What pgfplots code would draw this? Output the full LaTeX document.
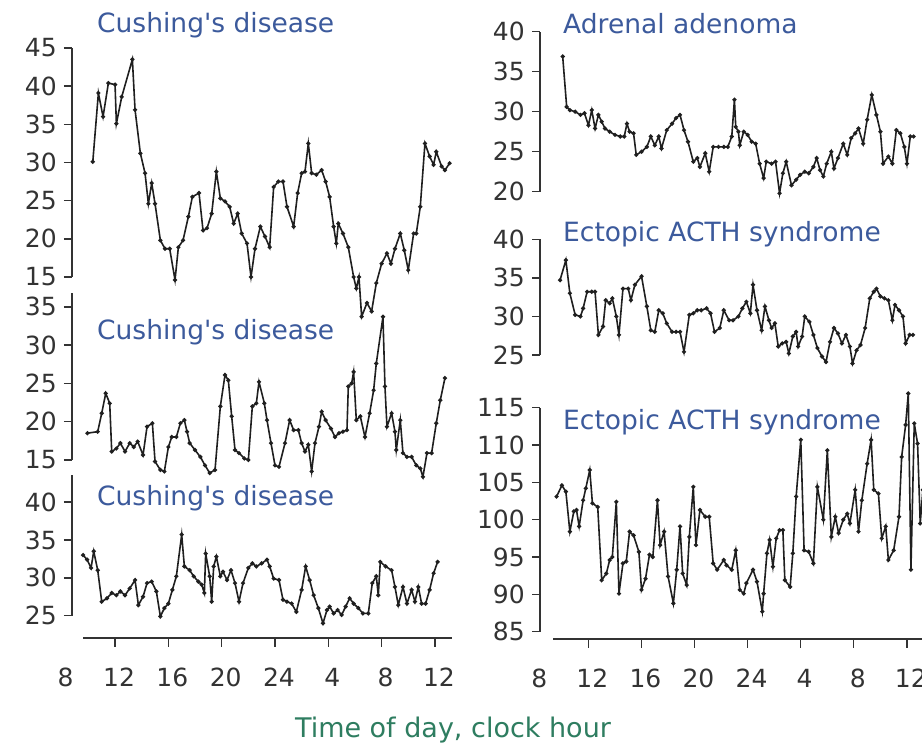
\documentclass[border=0pt]{standalone}
\usepackage{fontspec}
\setmainfont{DejaVu Sans}
\usepackage{pgfplots}
\pgfplotsset{compat=1.18}
\definecolor{titleblue}{HTML}{3C5A9C}
\definecolor{labgreen}{HTML}{2E7D60}
\definecolor{tickgray}{HTML}{333333}
\pgfplotsset{
 panel/.style={scale only axis, clip=false, anchor=south west,
   axis y line=left, axis x line=none,
   axis line style={-, line width=1.5pt, tickgray},
   tick align=outside, major tick length=8pt,
   tick style={line width=1.5pt, tickgray},
   ytick distance=5,
   /pgf/number format/assume math mode=true,
   yticklabel style={font=\fontsize{25}{30}\selectfont, text=tickgray, inner sep=1pt, xshift=-6pt}},
 xpanel/.style={scale only axis, clip=false, anchor=south west, height=10pt,
   ymin=0, ymax=1, axis y line=none, axis x line=bottom,
   axis line style={-, line width=1.5pt, tickgray},
   tick align=outside, major tick length=9pt,
   tick style={line width=1.5pt, tickgray},
   xtick={12,16,...,36}, xticklabels={12,16,20,24,4,8,12},
   extra x ticks={8}, extra x tick labels={8},
   extra x tick style={major tick style={draw=none}},
   xticklabel style={font=\fontsize{25}{30}\selectfont, text=tickgray, anchor=base, yshift=-40pt, xshift=4pt}},
 ser/.style={line width=1.6pt, black!88, mark=*, mark size=1.2pt},
}
\newcommand{\ttl}{\fontsize{26.5}{30}\selectfont}
\begin{document}
\begin{tikzpicture}
\useasboundingbox (0,0) rectangle (922pt,746pt);
\clip (0,0) rectangle (922pt,746pt);
\fill[white] (0,0) rectangle (922pt,746pt);

% ---------- left column ----------
\begin{axis}[panel, at={(72pt,469pt)}, width=389.6pt, height=229pt,
  xmin=8.77, xmax=38, ymin=15, ymax=45]
\addplot[ser] coordinates {
(10.33,30.1)(10.75,39.1)(11.1,36.0)(11.5,40.4)(12.0,40.2)(12.1,35.1)(12.5,38.6)
(13.3,43.5)(13.5,36.9)(13.9,31.2)(14.25,28.6)(14.5,24.6)(14.75,27.3)(15.0,24.6)
(15.4,19.8)(15.75,18.7)(16.1,18.7)(16.5,14.6)(16.75,18.9)(17.1,19.8)(17.5,22.9)
(17.8,25.5)(18.3,26.0)(18.6,21.1)(18.9,21.4)(19.25,23.3)(19.6,28.8)(19.9,25.3)
(20.25,24.9)(20.6,24.2)(20.9,22.0)(21.2,23.3)(21.5,20.7)(21.9,19.4)(22.2,15.0)
(22.5,18.7)(22.9,21.6)(23.25,20.3)(23.6,18.9)(23.9,26.8)(24.25,27.5)(24.6,27.5)
(24.9,24.2)(25.4,21.6)(25.7,26.0)(26.0,28.6)(26.25,28.8)(26.5,32.5)(26.75,28.6)
(27.1,28.4)(27.5,29.0)(27.8,27.5)(28.1,25.5)(28.4,21.6)(28.6,19.4)(28.75,22.0)
(29.1,20.7)(29.5,18.9)(29.9,15.0)(30.1,13.5)(30.3,15.0)(30.5,9.8)(30.9,11.6)
(31.25,10.5)(31.6,14.2)(32.0,16.75)(32.4,18.1)(32.7,16.75)(33.0,18.7)(33.4,20.7)
(33.7,18.5)(34.0,15.9)(34.4,20.7)(34.6,20.7)(34.9,24.2)(35.25,32.5)(35.6,30.8)
(35.9,29.7)(36.1,31.4)(36.5,29.5)(36.75,29.0)(37.1,29.9)
};
\end{axis}

\begin{axis}[panel, at={(72pt,286pt)}, width=389.6pt, height=167pt,
  xmin=8.77, xmax=38, ymin=15, ymax=36.8]
\addplot[ser] coordinates {
(9.93,18.5)(10.7,18.7)(11.0,21.1)(11.3,23.7)(11.6,22.4)(11.75,16.1)(12.1,16.5)
(12.4,17.2)(12.75,16.1)(13.1,17.2)(13.4,16.7)(13.7,17.4)(14.1,15.65)(14.4,19.35)
(14.8,19.8)(15.0,14.8)(15.4,13.7)(15.7,13.5)(16.0,16.7)(16.25,18.0)(16.6,18.0)
(16.9,19.8)(17.2,20.2)(17.4,18.7)(17.6,17.2)(18.0,16.3)(18.4,15.4)(18.75,14.3)
(19.1,13.3)(19.5,13.7)(19.9,22.0)(20.25,26.1)(20.5,25.4)(20.75,20.7)(21.0,16.3)
(21.3,15.9)(21.7,15.2)(22.0,15.0)(22.3,22.0)(22.6,22.4)(22.8,25.2)(23.2,22.4)
(23.4,20.2)(23.7,17.2)(24.0,14.3)(24.3,14.1)(24.75,17.2)(25.1,20.2)(25.4,18.9)
(25.75,18.9)(26.0,17.2)(26.25,16.1)(26.5,17.0)(26.75,13.5)(27.0,17.2)(27.3,19.35)
(27.5,21.3)(27.8,20.2)(28.2,19.1)(28.5,18.0)(28.8,18.5)(29.1,18.7)(29.4,18.9)
(29.5,24.6)(29.75,25.0)(29.9,26.5)(30.1,20.2)(30.4,20.7)(30.75,18.0)(31.1,21.1)
(31.4,24.1)(31.6,27.6)(32.1,33.7)(32.25,24.6)(32.4,19.35)(32.75,21.1)(33.0,18.7)
(33.1,16.3)(33.4,20.2)(33.6,15.9)(33.9,15.4)(34.25,15.4)(34.6,14.3)(34.9,13.9)
(35.1,12.8)(35.4,15.9)(35.75,15.9)(36.1,19.8)(36.4,22.8)(36.75,25.7)
};
\end{axis}

\begin{axis}[panel, at={(72pt,130.3pt)}, width=389.6pt, height=140.2pt,
  xmin=8.77, xmax=38, ymin=25, ymax=43.5]
\addplot[ser] coordinates {
(9.6,33.0)(9.9,32.4)(10.2,31.3)(10.4,33.5)(10.7,31.0)(11.0,26.85)(11.4,27.3)
(11.75,28.0)(12.1,27.7)(12.4,28.2)(12.75,27.7)(13.1,28.6)(13.5,29.7)(13.75,26.4)
(14.1,27.5)(14.4,29.3)(14.75,29.5)(15.1,28.2)(15.4,24.9)(15.7,26.0)(16.0,26.6)
(16.3,28.4)(16.6,30.2)(17.0,35.7)(17.2,31.5)(17.6,31.0)(17.9,30.2)(18.25,29.5)
(18.5,29.1)(18.7,28.0)(18.8,33.2)(19.1,30.2)(19.25,26.85)(19.4,31.5)(19.6,32.8)
(19.9,30.2)(20.1,30.8)(20.4,29.7)(20.7,31.0)(21.0,29.3)(21.3,26.85)(21.6,29.3)
(22.0,31.3)(22.3,31.9)(22.6,31.5)(23.0,31.9)(23.4,32.4)(23.6,31.5)(23.9,29.9)
(24.3,29.7)(24.6,27.1)(24.9,26.85)(25.25,26.6)(25.6,25.5)(26.0,28.4)(26.3,31.5)
(26.6,29.7)(26.9,27.7)(27.25,26.0)(27.6,24.0)(27.9,25.75)(28.1,26.2)(28.4,25.3)
(28.7,25.75)(29.0,25.1)(29.3,26.2)(29.6,27.3)(29.9,26.6)(30.25,26.0)(30.6,25.3)
(31.0,25.3)(31.3,29.3)(31.6,30.2)(31.75,27.7)(31.9,32.1)(32.3,31.5)(32.75,31.0)
(33.0,28.8)(33.25,26.4)(33.6,28.8)(33.9,26.6)(34.25,28.4)(34.5,26.85)(34.75,28.8)
(35.0,26.6)(35.3,26.6)(35.6,28.4)(35.9,30.6)(36.2,32.1)
};
\end{axis}

\begin{axis}[xpanel, at={(61.7pt,108pt)}, width=390.6pt, xmin=8, xmax=37.3,
  x axis line style={shorten <=21.3pt}]
\end{axis}

% ---------- right column ----------
\begin{axis}[panel, at={(540pt,554.3pt)}, width=393.5pt, height=160pt,
  xmin=8.35, xmax=38, ymin=20, ymax=40]
\addplot[ser] coordinates {
(10.06,36.9)(10.36,30.6)(10.6,30.2)(11.0,30.0)(11.4,29.6)(11.7,29.8)(12.0,28.3)
(12.25,30.2)(12.5,27.9)(12.75,29.6)(13.0,28.75)(13.25,27.9)(13.6,27.5)(14.0,27.1)
(14.4,26.9)(14.7,26.9)(14.9,28.5)(15.1,27.5)(15.4,27.3)(15.6,24.6)(16.0,25.0)
(16.4,25.6)(16.7,26.9)(17.0,25.8)(17.3,26.9)(17.5,25.4)(17.9,27.7)(18.3,28.5)
(18.6,29.2)(18.9,29.6)(19.2,27.7)(19.5,26.25)(19.9,23.75)(20.2,24.2)(20.4,23.1)
(20.8,24.8)(21.1,22.5)(21.4,25.6)(21.8,25.6)(22.2,25.6)(22.5,25.6)(22.8,26.9)
(23.0,31.5)(23.1,28.1)(23.3,27.5)(23.4,25.8)(23.7,27.5)(24.0,27.1)(24.3,26.25)
(24.6,26.0)(24.9,23.5)(25.2,21.7)(25.4,23.75)(25.8,23.5)(26.1,23.75)(26.4,19.8)
(26.65,22.3)(26.9,23.75)(27.3,20.8)(27.65,21.5)(27.95,22.1)(28.3,22.5)(28.6,22.3)
(28.95,23.1)(29.2,24.2)(29.45,22.7)(29.7,21.9)(29.95,23.5)(30.3,25.0)(30.5,22.9)
(30.8,24.2)(31.2,26.0)(31.5,24.6)(31.8,26.7)(32.1,27.3)(32.35,27.9)(32.7,26.0)
(33.0,29.0)(33.35,32.1)(33.7,29.6)(34.0,27.5)(34.2,23.5)(34.6,24.4)(34.9,23.5)
(35.2,27.7)(35.5,27.3)(35.8,25.6)(36.0,23.5)(36.25,26.9)(36.5,26.9)
};
\end{axis}

\begin{axis}[panel, at={(540pt,391pt)}, width=393.5pt, height=115.7pt,
  xmin=8.35, xmax=38, ymin=25, ymax=40]
\addplot[ser] coordinates {
(9.86,34.7)(10.3,37.3)(10.6,33.0)(11.0,30.2)(11.4,30.0)(11.6,31.05)(11.9,33.2)
(12.25,33.2)(12.5,33.2)(12.75,27.6)(13.1,28.7)(13.3,32.1)(13.6,31.7)(13.8,32.35)
(14.1,30.0)(14.3,27.6)(14.6,33.6)(15.0,33.6)(15.2,32.1)(15.5,34.1)(16.0,35.2)
(16.4,31.3)(16.7,28.2)(17.0,28.0)(17.3,30.8)(17.6,30.4)(17.9,29.1)(18.3,28.0)
(18.6,28.0)(18.9,28.0)(19.2,25.4)(19.6,30.2)(19.9,30.4)(20.2,30.8)(20.5,30.8)
(20.9,31.05)(21.2,30.4)(21.5,28.0)(21.9,28.5)(22.2,30.8)(22.6,29.5)(22.9,29.5)
(23.3,30.0)(23.6,31.05)(23.9,31.9)(24.2,30.4)(24.4,34.1)(24.7,30.8)(25.05,28.2)
(25.3,31.3)(25.6,29.5)(25.8,28.5)(26.05,29.1)(26.3,26.1)(26.6,26.5)(26.9,26.7)
(27.1,25.2)(27.4,27.4)(27.65,28.0)(27.8,26.1)(28.1,27.4)(28.3,30.0)(28.65,29.3)
(28.95,27.6)(29.25,25.9)(29.6,24.8)(29.9,24.1)(30.2,26.7)(30.5,28.5)(30.8,27.8)
(31.1,26.5)(31.4,27.6)(31.7,26.1)(31.9,23.9)(32.2,25.6)(32.5,26.3)(32.85,28.5)
(33.2,32.35)(33.5,33.2)(33.7,33.6)(34.0,32.6)(34.3,32.35)(34.6,32.1)(34.9,29.5)
(35.1,31.5)(35.4,30.8)(35.7,30.0)(35.9,26.5)(36.2,27.6)(36.45,27.6)
};
\end{axis}

\begin{axis}[panel, at={(540pt,114.3pt)}, width=393.5pt, height=224pt,
  xmin=8.35, xmax=38, ymin=85, ymax=115]
\addplot[ser] coordinates {
(9.6,103.1)(10.0,104.6)(10.3,103.75)(10.6,98.4)(10.9,101.1)(11.1,101.3)(11.3,99.1)
(11.6,102.6)(11.8,104.2)(12.1,106.65)(12.3,102.2)(12.7,101.7)(13.0,91.9)(13.35,92.8)
(13.6,94.6)(13.8,95.0)(14.1,102.4)(14.3,90.1)(14.6,94.15)(14.85,94.4)(15.1,98.4)
(15.4,97.9)(15.8,95.7)(16.0,90.6)(16.3,92.1)(16.6,95.3)(16.85,95.0)(17.2,102.6)
(17.4,96.6)(17.7,98.4)(18.0,92.4)(18.4,88.8)(18.65,93.3)(18.9,99.1)(19.1,92.8)
(19.4,91.25)(19.6,97.7)(19.9,104.4)(20.1,96.6)(20.4,101.3)(20.8,100.4)(21.1,100.4)
(21.4,94.15)(21.7,93.3)(22.2,94.6)(22.4,93.9)(22.8,93.3)(23.1,95.9)(23.4,90.6)
(23.7,90.1)(23.9,91.5)(24.4,93.3)(24.7,91.7)(25.1,87.7)(25.2,90.1)(25.45,95.5)
(25.65,97.3)(25.9,93.7)(26.15,97.5)(26.4,98.6)(26.65,98.6)(26.8,91.9)(27.2,91.0)
(27.4,95.5)(27.65,103.1)(28.0,110.7)(28.25,95.9)(28.6,95.7)(28.95,94.15)(29.25,104.4)
(29.7,100.0)(30.0,109.3)(30.3,97.7)(30.6,100.4)(30.85,98.2)(31.2,100.0)(31.5,100.8)
(31.7,99.5)(32.1,104.0)(32.35,98.4)(32.6,102.6)(33.0,107.5)(33.3,110.7)(33.5,104.0)
(33.85,103.5)(34.1,97.5)(34.4,99.1)(34.6,94.6)(35.0,95.9)(35.4,100.4)(35.6,108.4)
(35.9,112.7)(36.1,116.9)(36.3,93.3)(36.55,112.9)(36.8,110.2)(37.0,99.5)(37.2,104.0)
};
\end{axis}

\begin{axis}[xpanel, at={(535.3pt,107pt)}, width=398pt, xmin=8, xmax=38,
  x axis line style={shorten <=17.9pt}]
\end{axis}

% ---------- titles ----------
\node[anchor=base west, text=titleblue, font=\ttl, inner sep=0pt] at (97pt,713pt) {Cushing\textquotesingle s disease};
\node[anchor=base west, text=titleblue, font=\ttl, inner sep=0pt] at (97pt,406pt) {Cushing\textquotesingle s disease};
\node[anchor=base west, text=titleblue, font=\ttl, inner sep=0pt] at (97pt,240pt) {Cushing\textquotesingle s disease};
\node[anchor=base west, text=titleblue, font=\ttl, inner sep=0pt] at (563pt,712pt) {Adrenal adenoma};
\node[anchor=base west, text=titleblue, font=\ttl, inner sep=0pt] at (563pt,504pt) {Ectopic ACTH syndrome};
\node[anchor=base west, text=titleblue, font=\ttl, inner sep=0pt] at (563pt,316pt) {Ectopic ACTH syndrome};
\node[anchor=base, text=labgreen, font=\fontsize{27}{30}\selectfont, inner sep=0pt] at (453pt,8pt) {Time of day, clock hour};
\end{tikzpicture}
\end{document}
